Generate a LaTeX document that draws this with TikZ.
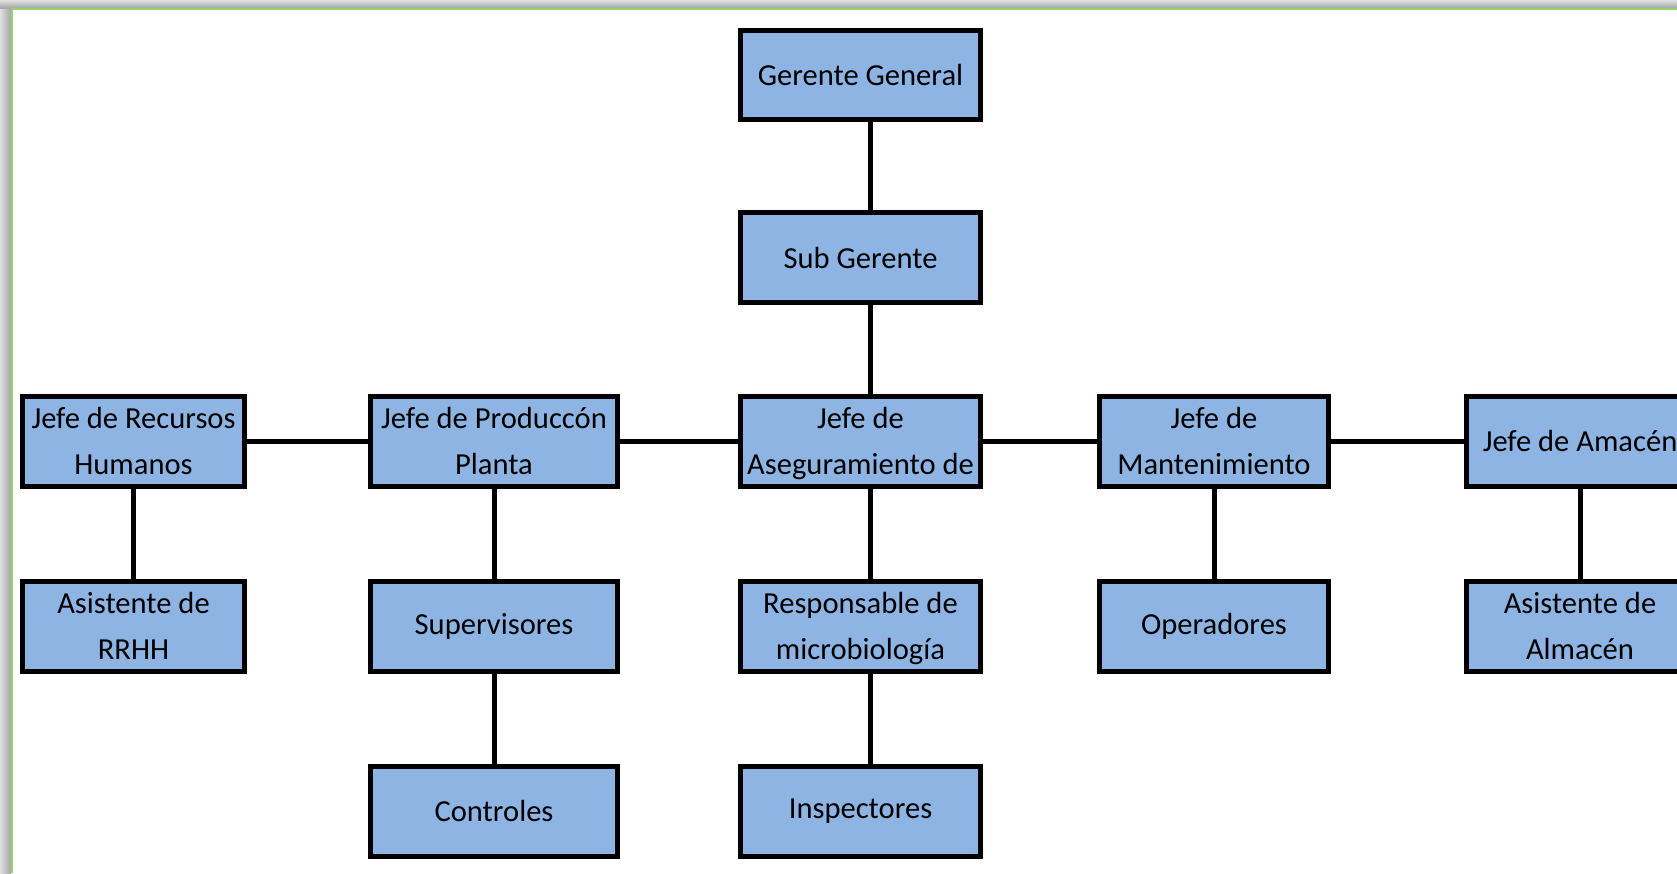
\documentclass[tikz,border=0pt]{standalone}
\usepackage{fontspec}
\setmainfont{Carlito}
\usepackage{tikz}
\usetikzlibrary{positioning}
\definecolor{boxblue}{RGB}{142,180,227}
\definecolor{framegreen}{RGB}{150,210,110}
\tikzset{org_chart/.style={x=0.02cm,y=-0.02cm,line width=0.1cm}}
\tikzset{org_box/.style={rectangle, draw=black, fill=boxblue, inner sep=0pt,
    minimum height=1.80cm, align=center, font=\fontsize{17.4}{26}\selectfont}}
\tikzset{org_link/.style={draw=black, line width=0.1cm}}

\begin{document}
\begin{tikzpicture}[org_chart]
    \useasboundingbox (0,0) rectangle (1677,873);
    \clip (0,0) rectangle (1677,873);
    % frame with shadow
    \fill[left color=gray!25, right color=gray!70, draw=none] (0,0) rectangle (11,873);
    \fill[top color=gray!25, bottom color=gray!70, draw=none] (0,0) rectangle (1677,8);
    \draw[framegreen, line width=0.04cm] (12,873) |- (1677,9);

    \node[org_box, minimum width=4.80cm] (gg) at (860.5,75) {Gerente General};
    \node[org_box, minimum width=4.80cm] (sg) at (860.5,257.5) {Sub Gerente};

    \node[org_box, minimum width=4.44cm] (jrh) at (133.5,441) {Jefe de Recursos\\Humanos};
    \node[org_box, minimum width=4.94cm] (jpp) at (494,441) {Jefe de Produccón\\Planta};
    \node[org_box, minimum width=4.80cm] (jac) at (860.5,441) {Jefe de\\\smash{Aseguramiento de}};
    \node[org_box, minimum width=4.58cm] (jmt) at (1214,441) {Jefe de\\Mantenimiento};
    \node[org_box, minimum width=4.54cm] (jal) at (1580,441) {Jefe de Amacén};

    \node[org_box, minimum width=4.44cm] (arh) at (133.5,626) {Asistente de\\RRHH};
    \node[org_box, minimum width=4.94cm] (sup) at (494,626) {Supervisores};
    \node[org_box, minimum width=4.80cm] (rmb) at (860.5,626) {Responsable de\\\smash{microbiología}};
    \node[org_box, minimum width=4.58cm] (ope) at (1214,626) {Operadores};
    \node[org_box, minimum width=4.54cm] (aal) at (1580,626) {Asistente de\\Almacén};

    \node[org_box, minimum width=4.94cm] (ctl) at (494,811) {Controles};
    \node[org_box, minimum width=4.80cm] (ins) at (860.5,811) {Inspectores};

    \path[org_link]
        ([xshift=0.19cm]gg.south) edge ([xshift=0.19cm]sg.north)
        ([xshift=0.19cm]sg.south) edge ([xshift=0.19cm]jac.north)
        ([xshift=0.19cm]jac.south) edge ([xshift=0.19cm]rmb.north)
        ([xshift=0.19cm]rmb.south) edge ([xshift=0.19cm]ins.north)
        (jrh) edge (jpp)
        (jpp) edge (jac)
        (jac) edge (jmt)
        (jmt) edge (jal)
        (jrh) edge (arh)
        (jpp) edge (sup)
        (sup) edge (ctl)
        (jmt) edge (ope)
        (jal) edge (aal)
    ;
\end{tikzpicture}
\end{document}
